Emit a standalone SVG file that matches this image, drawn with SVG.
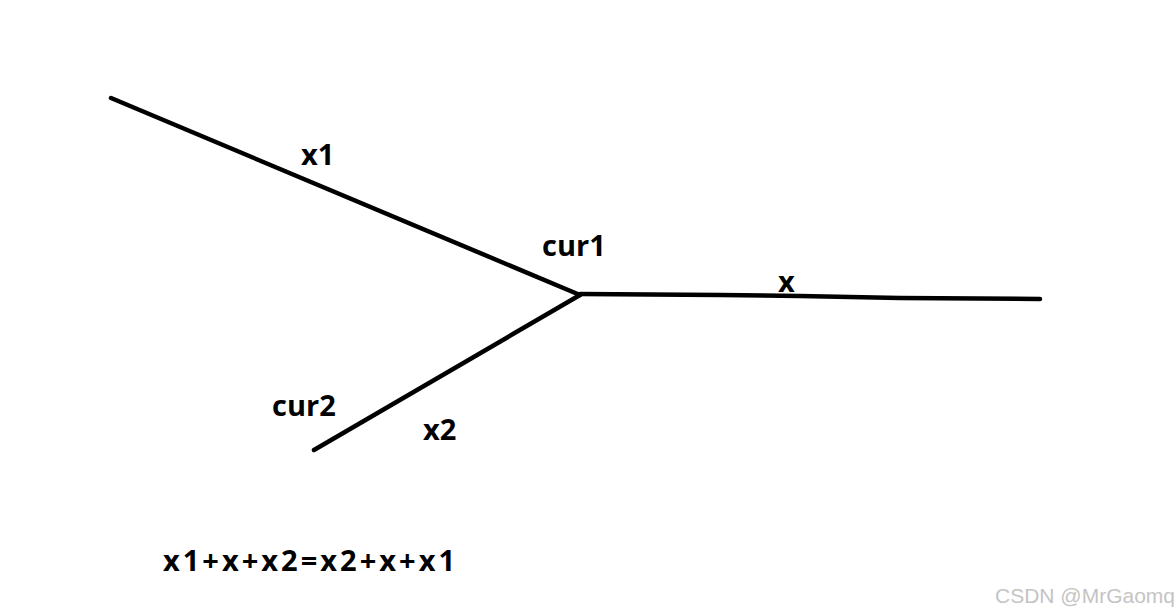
<svg xmlns="http://www.w3.org/2000/svg" width="1176" height="615" viewBox="0 0 1176 615">
<style>
.ln{fill:none;stroke:#000;stroke-width:4.5;stroke-linecap:round;stroke-linejoin:round}
.lb{font-family:"Open Sans","Noto Sans",sans-serif;font-weight:bold;font-size:29px;fill:#000}
.wm{font-family:"Liberation Sans",Arial,sans-serif;font-size:21px;fill:#c4c4c4}
</style>
<rect width="1176" height="615" fill="#fff"/>
<g id="connectors">
<polyline class="ln" points="111,98 580,295"/>
<polyline class="ln" points="580,295 314,450"/>
<polyline class="ln" points="580,294 720,295 800,296 900,298 1040,299"/>
</g>
<g id="label-x1"><text class="lb" x="301" y="165">x1</text></g>
<g id="label-cur1"><text class="lb" x="542" y="256">cur1</text></g>
<g id="label-x"><text class="lb" x="778" y="292">x</text></g>
<g id="label-cur2"><text class="lb" x="272" y="416">cur2</text></g>
<g id="label-x2"><text class="lb" x="423" y="440">x2</text></g>
<g id="equation"><text class="lb" x="163" y="571" textLength="292" lengthAdjust="spacing">x1+x+x2=x2+x+x1</text></g>
<g id="watermark"><text class="wm" x="995" y="603">CSDN @MrGaomq</text></g>
</svg>
